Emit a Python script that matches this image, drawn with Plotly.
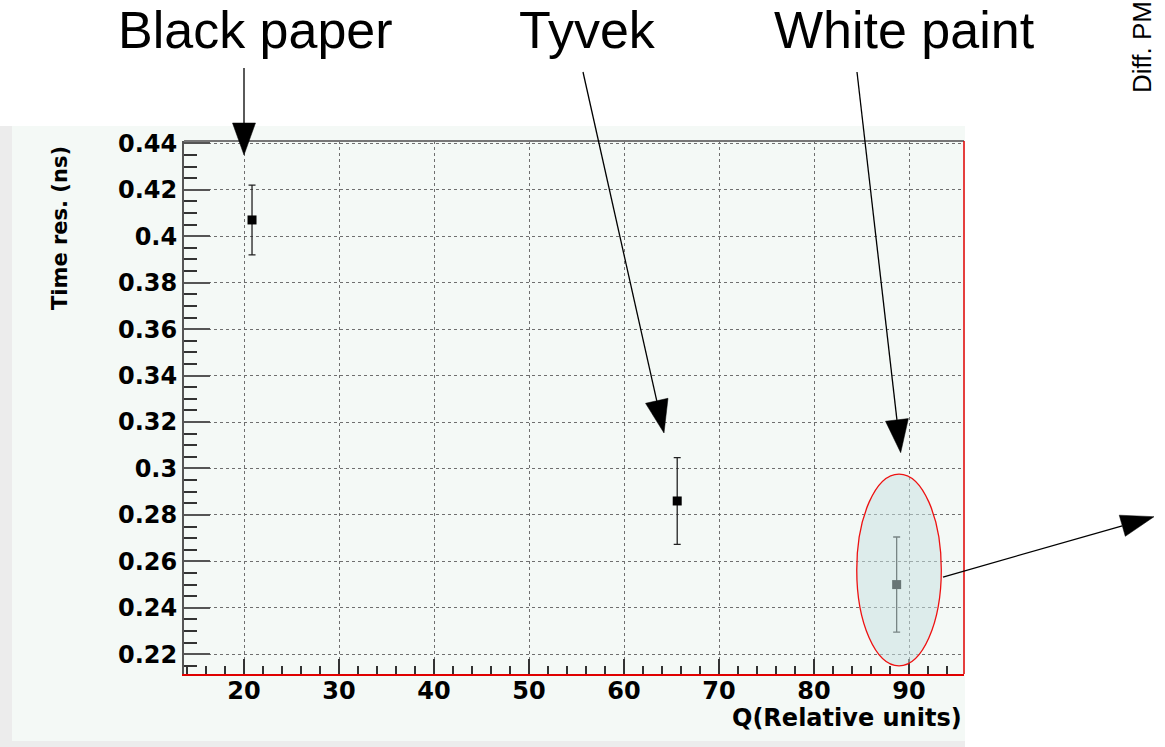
import math
import plotly.graph_objects as go

# ---- data ----
materials = ["Black paper", "Tyvek", "White paint"]
q_rel = [20.84, 65.6, 88.7]
time_res = [0.407, 0.286, 0.250]
time_err = [0.015, 0.0187, 0.0205]

x_tick_vals = [20, 30, 40, 50, 60, 70, 80, 90]
x_tick_text = ["20", "30", "40", "50", "60", "70", "80", "90"]
y_tick_vals = [0.22, 0.24, 0.26, 0.28, 0.30, 0.32, 0.34, 0.36, 0.38, 0.40, 0.42, 0.44]
y_tick_text = ["0.22", "0.24", "0.26", "0.28", "0.3", "0.32", "0.34", "0.36", "0.38", "0.4", "0.42", "0.44"]

# highlighted region around the "White paint" point (centre, half-axes)
ell_center = (88.95, 0.2563)
ell_half = (4.45, 0.0413)

# ---- layout geometry (pixels) ----
W_FIG, H_FIG = 1165, 747
L, T, W, H = 184, 141, 780, 533


def px(xp):
    return (xp - L) / W


def py(yp):
    return (T + H - yp) / H


BG = "#f4f9f6"
GRID = "#6f6f6f"

fig = go.Figure()
fig.add_trace(go.Scatter(
    x=q_rel, y=time_res, mode="markers", text=materials,
    marker=dict(symbol="square", size=9, color="black"),
    error_y=dict(type="data", array=time_err, visible=True,
                 color="#222222", thickness=1.3, width=3.5),
    showlegend=False, hoverinfo="text+x+y",
))

shapes = []
# grey shadow + light panel background
shapes.append(dict(type="rect", xref="paper", yref="paper", layer="below",
                   x0=px(0), x1=px(965), y0=py(747), y1=py(126),
                   fillcolor="#ececec", line=dict(width=0)))
shapes.append(dict(type="rect", xref="paper", yref="paper", layer="below",
                   x0=px(12), x1=px(965), y0=py(741), y1=py(126),
                   fillcolor=BG, line=dict(width=0)))
# frame: top grey, right red
shapes.append(dict(type="line", xref="paper", yref="paper", x0=0, x1=1, y0=1, y1=1,
                   line=dict(color="#777777", width=2)))
shapes.append(dict(type="line", xref="paper", yref="paper", x0=1, x1=1, y0=0, y1=1,
                   line=dict(color="#e00000", width=1.5)))
# ellipse
shapes.append(dict(type="circle", xref="x", yref="y", layer="above",
                   x0=ell_center[0] - ell_half[0], x1=ell_center[0] + ell_half[0],
                   y0=ell_center[1] - ell_half[1], y1=ell_center[1] + ell_half[1],
                   fillcolor="rgba(200,225,225,0.52)",
                   line=dict(color="#ee1111", width=1.3)))


def arrow(x0, y0, x1, y1, hl=33, hw=11.5, lw=1.3):
    dx, dy = x1 - x0, y1 - y0
    n = math.hypot(dx, dy)
    ux, uy = dx / n, dy / n
    bx, by = x1 - ux * hl, y1 - uy * hl
    p1 = (bx - uy * hw, by + ux * hw)
    p2 = (bx + uy * hw, by - ux * hw)
    shapes.append(dict(type="line", xref="paper", yref="paper",
                       x0=px(x0), y0=py(y0), x1=px(bx), y1=py(by),
                       line=dict(color="black", width=lw)))
    path = "M {:.5f},{:.5f} L {:.5f},{:.5f} L {:.5f},{:.5f} Z".format(
        px(x1), py(y1), px(p1[0]), py(p1[1]), px(p2[0]), py(p2[1]))
    shapes.append(dict(type="path", xref="paper", yref="paper", path=path,
                       fillcolor="black", line=dict(color="black", width=0.5)))


arrow(244, 68, 244, 155, hl=32, hw=11.5)
arrow(583, 72, 664, 433)
arrow(857, 72, 900.7, 452.7)
arrow(943, 577, 1154, 516.7, hl=33, hw=11)

annotations = []
label_pos = [(255, 30), (587, 30), (904, 30)]
for name, (xc, yc) in zip(materials, label_pos):
    annotations.append(dict(text=name, xref="paper", yref="paper",
                            x=px(xc), y=py(yc), xanchor="center", yanchor="middle",
                            showarrow=False,
                            font=dict(family="Liberation Sans", size=52, color="black")))
annotations.append(dict(text="Diff. PM", xref="paper", yref="paper",
                        x=px(1142), y=py(95), xanchor="center", yanchor="bottom",
                        textangle=-90, showarrow=False,
                        font=dict(family="Liberation Sans", size=26, color="black")))
annotations.append(dict(text="Time res. (ns)", xref="paper", yref="paper",
                        x=px(60), y=py(228), xanchor="center", yanchor="middle",
                        textangle=-90, showarrow=False,
                        font=dict(family="DejaVu Sans", size=21, color="black", weight="bold")))
annotations.append(dict(text="Q(Relative units)", xref="paper", yref="paper",
                        x=px(964), y=py(718), xanchor="right", yanchor="middle",
                        showarrow=False,
                        font=dict(family="DejaVu Sans", size=24, color="black", weight="bold")))

tickfont = dict(family="DejaVu Sans", size=24, color="black", weight="bold")

fig.update_layout(
    width=W_FIG, height=H_FIG, autosize=False,
    margin=dict(l=L, r=W_FIG - L - W, t=T, b=H_FIG - T - H, pad=0),
    paper_bgcolor="white", plot_bgcolor=BG,
    shapes=shapes, annotations=annotations,
    xaxis=dict(range=[13.68, 95.79], tickvals=x_tick_vals, ticktext=x_tick_text,
               showgrid=True, gridcolor=GRID, griddash="dot", gridwidth=1,
               ticks="inside", ticklen=15, tickcolor="#333333", tickwidth=1.5,
               minor=dict(dtick=2, ticks="inside", ticklen=8, tickcolor="#333333", showgrid=False),
               showline=True, linecolor="#e00000", linewidth=2, mirror=False,
               zeroline=False, tickfont=tickfont, ticklabelstandoff=-6),
    yaxis=dict(range=[0.2115, 0.441], tickvals=y_tick_vals, ticktext=y_tick_text,
               showgrid=True, gridcolor=GRID, griddash="dot", gridwidth=1,
               ticks="inside", ticklen=26, tickcolor="#555555", tickwidth=1.5,
               minor=dict(dtick=0.005, ticks="inside", ticklen=13, tickcolor="#333333", showgrid=False),
               showline=True, linecolor="#555555", linewidth=2, mirror=False,
               zeroline=False, tickfont=tickfont, ticklabelstandoff=0),
)

fig.write_html("out.html")
